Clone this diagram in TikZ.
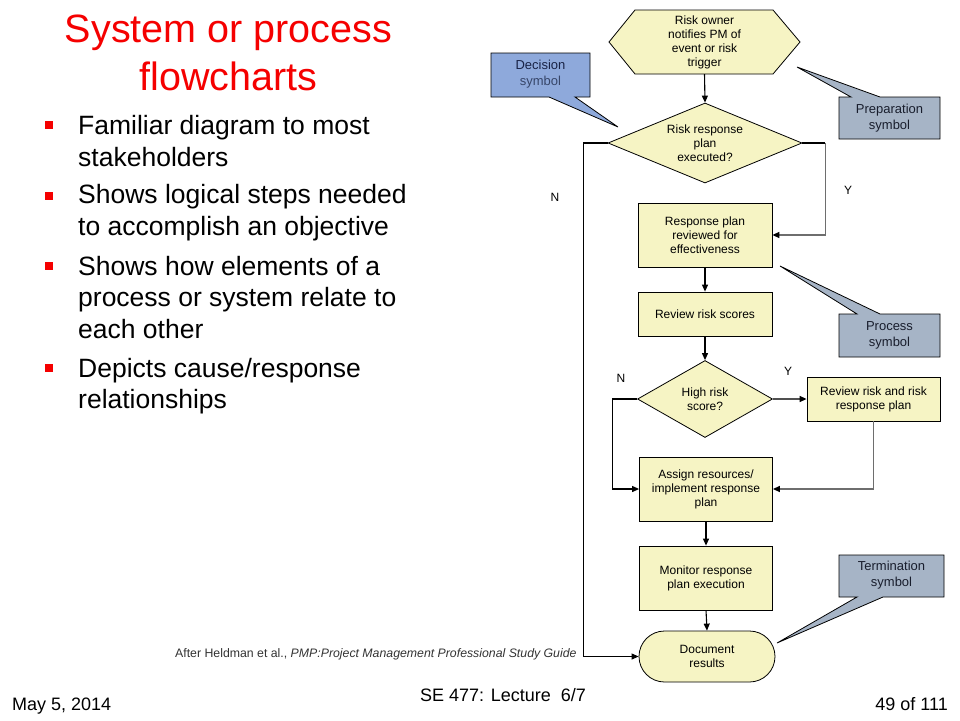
\documentclass[tikz,border=0pt]{standalone}
\usepackage{fontspec}
\setmainfont{Liberation Sans}
\usetikzlibrary{shapes.geometric,shapes.misc,arrows.meta}
\definecolor{flowfill}{RGB}{246,244,196}
\definecolor{decfill}{RGB}{142,169,219}
\definecolor{callfill}{RGB}{166,180,198}
\definecolor{titlered}{RGB}{245,0,0}
\definecolor{linegray}{RGB}{110,110,110}
\definecolor{darkgray}{RGB}{80,80,80}
\definecolor{dectext}{RGB}{25,35,70}
\definecolor{decsym}{RGB}{55,70,105}
\definecolor{calltext}{RGB}{25,30,45}
\begin{document}
\begin{tikzpicture}[x=1pt,y=-1pt,
  flow/.style={draw=black, line width=0.8pt, fill=flowfill, font=\fontsize{12}{14}\selectfont, align=center, inner sep=0pt},
  procbox/.style={flow, rectangle, minimum width=134pt, minimum height=64pt},
  conn/.style={draw=black, line width=1.1pt, -{Triangle[length=7pt,width=6pt,color=black]}},
  grayconn/.style={conn, draw=linegray, line width=1.5pt},
  dgconn/.style={conn, draw=darkgray, line width=1.3pt},
  flowlab/.style={font=\fontsize{12}{14}\selectfont, inner sep=0pt},
  callline/.style={draw=black, line width=0.8pt},
  calltxt/.style={font=\fontsize{13}{16}\selectfont, align=center, text=calltext, inner sep=0pt},
  titletxt/.style={anchor=base, font=\fontsize{39.5}{47}\selectfont, text=titlered, inner sep=0pt},
  btxt/.style={anchor=base west, font=\fontsize{26.5}{31}\selectfont, inner sep=0pt},
  bulletsq/.style={fill=titlered, minimum size=8pt, inner sep=0pt},
  foot/.style={font=\fontsize{18}{20}\selectfont, inner sep=0pt}
]
\useasboundingbox (0,0) rectangle (960,720);
\fill[white] (0,0) rectangle (960,720);

% ---------- title ----------
\node (t1) [titletxt] at (228.5,42) {System or process};
\node (t2) [titletxt] at (228.5,90) {flowcharts};

% ---------- bullets ----------
\node (sq1) [bulletsq] at (49,125) {};
\node (sq2) [bulletsq] at (49,195.5) {};
\node (sq3) [bulletsq] at (49,265.5) {};
\node (sq4) [bulletsq] at (49,368) {};
\node (b1a) [btxt] at (78,134) {Familiar diagram to most};
\node (b1b) [btxt] at (78,166) {stakeholders};
\node (b2a) [btxt] at (78,203) {Shows logical steps needed};
\node (b2b) [btxt] at (78,235) {to accomplish an objective};
\node (b3a) [btxt] at (78,275) {Shows how elements of a};
\node (b3b) [btxt] at (78,306) {process or system relate to};
\node (b3c) [btxt] at (78,338) {each other};
\node (b4a) [btxt] at (78,377) {Depicts cause/response};
\node (b4b) [btxt] at (78,408) {relationships};

% ---------- callouts ----------
\draw[callline, fill=decfill] (491,53) -- (590,53) -- (590,97) -- (575,97) -- (618,127) -- (549,97) -- (491,97) -- cycle;
\node (decl) [calltxt] at (540.5,74) {\textcolor{dectext}{Decision}\\\textcolor{decsym}{symbol}};

\draw[callline, fill=callfill] (839,97) -- (851,97) -- (797,67) -- (880,97) -- (940,97) -- (940,139) -- (839,139) -- cycle;
\node (prepl) [calltxt] at (889.5,118) {Preparation\\symbol};

\draw[callline, fill=callfill] (839,314) -- (857,314) -- (780,266) -- (880,314) -- (940,314) -- (940,357) -- (839,357) -- cycle;
\node (procl) [calltxt] at (889.5,335.5) {Process\\symbol};

\draw[callline, fill=callfill] (839,555) -- (944,555) -- (944,597) -- (883,597) -- (777,643) -- (857,597) -- (839,597) -- cycle;
\node (terml) [calltxt] at (891.5,575) {Termination\\symbol};

% ---------- flowchart ----------
\draw[draw=black, line width=0.8pt, fill=flowfill] (609,42) -- (635,10) -- (773,10) -- (800,42) -- (773,74) -- (635,74) -- cycle;
\node (hex) [font=\fontsize{12}{14}\selectfont, align=center, inner sep=0pt, minimum width=191pt, minimum height=64pt] at (704.5,42) {Risk owner\\notifies PM of\\event or risk\\trigger};

\node (d1) [flow, diamond, aspect=2.425, minimum width=194pt, minimum height=80pt] at (705,143) {Risk response\\plan\\executed?};
\node (rp) [procbox] at (705,235) {Response plan\\reviewed for\\effectiveness};
\node (rs) [procbox, minimum height=44pt] at (705,314) {Review risk scores};
\node (d2) [flow, diamond, aspect=1.75, minimum width=135pt, minimum height=77pt] at (705,399) {High risk\\score?};
\node (rr) [procbox, minimum width=133pt, minimum height=44pt] at (873.5,399) {Review risk and risk\\response plan};
\node (as) [procbox, minimum width=133pt] at (706,489) {Assign resources/\\implement response\\plan};
\node (mo) [procbox, minimum width=133pt] at (706,578) {Monitor response\\plan execution};
\node (doc) [flow, rounded rectangle, minimum width=136pt, minimum height=51pt] at (707,656.5) {Document\\results};

\draw[conn] (hex.south) -- (d1.north);
\draw[conn] (d1.west) -- ++(-24,0) |- (doc.west);
\draw[draw=black, line width=1.1pt] (d1.east) -- ++(23,0) coordinate (ycorner);
\draw[grayconn] (ycorner) |- (rp.east);
\draw[conn] (rp.south) -- (rs.north);
\draw[conn] (rs.south) -- (d2.north);
\draw[dgconn] (d2.east) -- (rr.west);
\draw[conn] (d2.west) -- ++(-25,0) |- (as.west);
\draw[grayconn] (rr.south) |- (as.east);
\draw[conn] (as.south) -- (mo.north);
\draw[conn] (mo.south) -- (doc.north);

\node (n1) [flowlab] at (555,197) {N};
\node (y1) [flowlab] at (848,190) {Y};
\node (n2) [flowlab] at (621,378) {N};
\node (y2) [flowlab] at (788,371) {Y};

% ---------- footer ----------
\node (src) [anchor=base west, font=\fontsize{12.3}{14}\selectfont, text=black!80, inner sep=0pt] at (175,657) {After Heldman et al., \textit{PMP:Project Management Professional Study Guide}};
\node (date) [foot, anchor=base west] at (12,710) {May 5, 2014};
\node (lec) [foot, anchor=base] at (503,701) {SE 477: Lecture\ \ 6/7};
\node (pg) [foot, anchor=base east] at (948,710) {49 of 111};
\end{tikzpicture}
\end{document}
